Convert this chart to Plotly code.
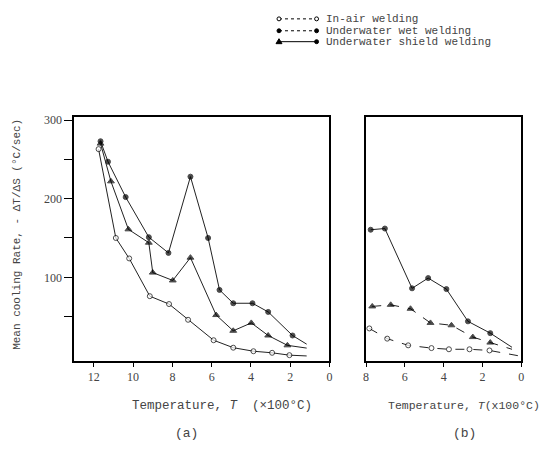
import plotly.graph_objects as go

# ---------------- data ----------------
# Panel (a): temperature in units of 100 degC
a_air_T = [11.76, 10.88, 10.2, 9.15, 8.17, 7.2, 5.9, 4.9, 3.87, 2.92, 2.04, 1.16]
a_air_v = [263, 150, 124, 76, 66, 46, 20, 10.5, 6, 4, 1, 0]

a_wet_T = [11.66, 11.28, 10.38, 9.2, 8.2, 7.08, 6.18, 5.6, 4.9, 3.92, 3.12, 1.88, 1.16]
a_wet_v = [273, 247, 202, 151, 131, 228, 150, 84, 67, 67, 56, 26, 15]

a_shd_T = [11.66, 11.13, 10.24, 9.2, 9.0, 7.98, 7.08, 5.77, 4.9, 3.98, 3.12, 2.14, 1.16]
a_shd_v = [270, 222, 161, 144, 106, 96, 125, 52, 32, 42, 26, 13.5, 10]

# Panel (b)
b_air_T = [7.83, 6.91, 5.83, 4.63, 3.73, 2.67, 1.64, 0.1]
b_air_v = [35, 22, 13.5, 10, 8.5, 8.5, 7, 0]

b_wet_T = [7.76, 7.03, 5.63, 4.8, 3.86, 2.75, 1.6, 0.48]
b_wet_v = [160.5, 162, 86, 99, 85, 44, 29, 11]

b_shd_T = [7.68, 6.73, 5.71, 4.68, 3.6, 2.5, 1.6, 0.48]
b_shd_v = [63, 65, 60, 42, 39, 24, 17, 8.5]

a_xticks = [12, 10, 8, 6, 4, 2, 0]
b_xticks = [8, 6, 4, 2, 0]
y_tickvals = [50, 100, 150, 200, 250, 300]
y_ticktext = ["", "100", "", "200", "", "300"]

series_names = ["In-air welding", "Underwater wet welding", "Underwater shield welding"]

# ---------------- styling ----------------
W, H = 556, 466
INK = "black"
TXT = "#444444"
MONO = "Liberation Mono, Courier New, monospace"
SERIF = "Liberation Serif, DejaVu Serif, serif"


def px(x):
    return x / W


def py(y):
    return 1 - y / H


def sizes(n, s):
    return [s] * (n - 1) + [0]


fig = go.Figure()


def add(T, v, xa, symbol, fill, dash, size):
    fig.add_trace(go.Scatter(
        x=T, y=v, xaxis=xa, yaxis="y" if xa == "x" else "y2",
        mode="lines+markers", showlegend=False,
        line=dict(color="#222222", width=1, dash=dash),
        marker=dict(symbol=symbol, size=sizes(len(T), size),
                    color="white" if not fill else INK,
                    line=dict(color=INK, width=1)),
    ))


add(a_air_T, a_air_v, "x", "circle", False, "solid", 5)
add(a_wet_T, a_wet_v, "x", "circle", True, "solid", 5)
add(a_shd_T, a_shd_v, "x", "triangle-up", True, "solid", 6)
add(b_air_T, b_air_v, "x2", "circle", False, "dash", 5)
add(b_wet_T, b_wet_v, "x2", "circle", True, "solid", 5)
add(b_shd_T, b_shd_v, "x2", "triangle-up", True, "dash", 6)

yrange = [-6.3, 303.8]
ydom = [py(360), py(114)]

axis_common = dict(showline=True, linecolor=INK, linewidth=1.5, mirror=True,
                   showgrid=False, zeroline=False,
                   tickfont=dict(family=SERIF, size=12, color=TXT),
                   ticks="outside", tickcolor=INK, ticklen=4)

fig.update_layout(
    width=W, height=H,
    margin=dict(l=0, r=0, t=0, b=0),
    paper_bgcolor="white", plot_bgcolor="white",
    xaxis=dict(domain=[px(72), px(330)], range=[13, 0],
               tickvals=a_xticks, anchor="y", ticklabelstandoff=0, **axis_common),
    yaxis=dict(domain=ydom, range=yrange, tickvals=y_tickvals,
               ticktext=y_ticktext, anchor="x", **{**axis_common, "ticklen": 8}),
    xaxis2=dict(domain=[px(367), px(524)], range=[8, 0],
                tickvals=b_xticks, anchor="y2", ticklabelstandoff=0, **axis_common),
    yaxis2=dict(domain=ydom, range=yrange, anchor="x2",
                **{**axis_common, "ticks": "", "showticklabels": False}),
    showlegend=False,
)

anns = [
    dict(text="Mean cooling Rate, - ΔT/ΔS (°C/sec)", x=px(14), y=py(232),
         textangle=-90, font=dict(family=MONO, size=11, color=TXT)),
    dict(text="Temperature, <i>T</i>  (×100°C)", x=px(221), y=py(405),
         font=dict(family=MONO, size=12.5, color=TXT)),
    dict(text="Temperature, <i>T</i>(x100°C)", x=px(466), y=py(405),
         font=dict(family=MONO, size=11.5, color=TXT)),
    dict(text="(a)", x=px(185), y=py(433), font=dict(family=MONO, size=13, color=TXT)),
    dict(text="(b)", x=px(467), y=py(433), font=dict(family=MONO, size=13, color=TXT)),
]
for a in anns:
    a.update(xref="paper", yref="paper", showarrow=False, xanchor="center", yanchor="middle")
    fig.add_annotation(**a)

# ---------------- legend (drawn) ----------------
leg_rows = [15, 27, 38]
leg_dash = ["dot", "dot", "solid"]
for i, name in enumerate(series_names):
    yy = py(leg_rows[i])
    fig.add_shape(type="line", xref="paper", yref="paper",
                  x0=px(279), x1=px(317), y0=yy, y1=yy,
                  line=dict(color=INK, width=1, dash=leg_dash[i]))
    fig.add_annotation(text=name, x=px(324), y=yy, xref="paper", yref="paper",
                       showarrow=False, xanchor="left", yanchor="middle",
                       font=dict(family=MONO, size=11, color=TXT))
    for xx in (279, 317):
        r = leg_rows[i]
        if i == 0:
            fig.add_shape(type="circle", xref="paper", yref="paper",
                          x0=px(xx - 2), x1=px(xx + 2), y0=py(r + 2), y1=py(r - 2),
                          line=dict(color=INK, width=1), fillcolor="white")
        elif i == 1 or xx == 317:
            fig.add_shape(type="circle", xref="paper", yref="paper",
                          x0=px(xx - 2), x1=px(xx + 2), y0=py(r + 2), y1=py(r - 2),
                          line=dict(color=INK, width=1), fillcolor=INK)
        else:
            fig.add_shape(type="path", xref="paper", yref="paper",
                          path=f"M {px(xx-3)} {py(r+2)} L {px(xx+3)} {py(r+2)} L {px(xx)} {py(r-3)} Z",
                          line=dict(color=INK, width=1), fillcolor=INK)

fig.write_html("out.html", config={"displayModeBar": False},
               post_script="document.body.style.margin='0';document.body.style.overflow='hidden';")
